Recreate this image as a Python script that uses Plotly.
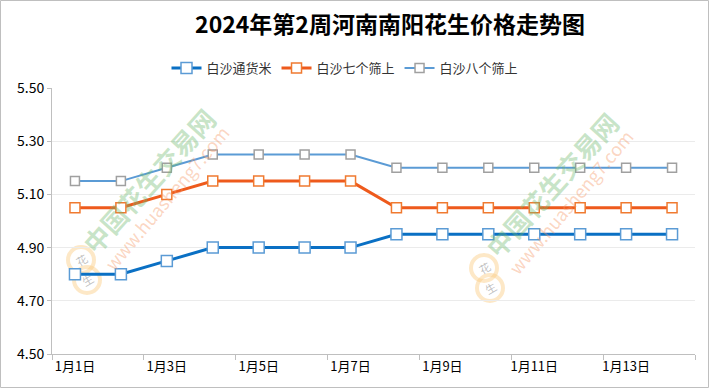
import plotly.graph_objects as go

dates = ["1月1日", "1月2日", "1月3日", "1月4日", "1月5日", "1月6日", "1月7日",
         "1月8日", "1月9日", "1月10日", "1月11日", "1月12日", "1月13日", "1月14日"]
s_tonghuo = [4.80, 4.80, 4.85, 4.90, 4.90, 4.90, 4.90, 4.95, 4.95, 4.95, 4.95, 4.95, 4.95, 4.95]
s_qige = [5.05, 5.05, 5.10, 5.15, 5.15, 5.15, 5.15, 5.05, 5.05, 5.05, 5.05, 5.05, 5.05, 5.05]
s_bage = [5.15, 5.15, 5.20, 5.25, 5.25, 5.25, 5.25, 5.20, 5.20, 5.20, 5.20, 5.20, 5.20, 5.20]
names = ["白沙通货米", "白沙七个筛上", "白沙八个筛上"]
title = "2024年第2周河南南阳花生价格走势图"

FONT = "Noto Sans CJK SC"

fig = go.Figure()
fig.add_trace(go.Scatter(
    x=dates, y=s_tonghuo, name=names[0], mode="lines+markers",
    line=dict(color="#0A70C4", width=3),
    marker=dict(symbol="square", size=11, color="white", line=dict(color="#5B9BD5", width=1.5))))
fig.add_trace(go.Scatter(
    x=dates, y=s_qige, name=names[1], mode="lines+markers",
    line=dict(color="#EE5A1C", width=3),
    marker=dict(symbol="square", size=10, color="white", line=dict(color="#F07A30", width=1.5))))
fig.add_trace(go.Scatter(
    x=dates, y=s_bage, name=names[2], mode="lines+markers",
    line=dict(color="#5B9BD5", width=2),
    marker=dict(symbol="square", size=9, color="white", line=dict(color="#A0A0A0", width=1.5))))

W, H = 710, 389
L, R, T, B = 52, 15, 88, 35
pw, ph = W - L - R, H - T - B

def px(x):
    return (x - L) / pw

def py(y):
    return (H - B - y) / ph

fig.update_layout(
    width=W, height=H,
    margin=dict(l=L, r=R, t=T, b=B, autoexpand=False),
    paper_bgcolor="white", plot_bgcolor="white",
    font=dict(family=FONT, color="#222222"),
    title=dict(text="<b>" + title + "</b>", x=390 / W, xanchor="center",
               y=1 - 25 / H, yanchor="middle", font=dict(size=23, color="black", family=FONT)),
    legend=dict(orientation="h", x=345 / W, xref="container", xanchor="center",
                y=1 - 68 / H, yref="container", yanchor="middle",
                font=dict(size=13, color="#333333", family=FONT), itemwidth=30,
                traceorder="normal"),
    showlegend=True,
)
fig.update_xaxes(
    type="category", tickmode="linear", dtick=2, tickson="boundaries", tickangle=0,
    ticks="outside", ticklen=5, tickcolor="#BFBFBF",
    showline=True, linecolor="#BFBFBF", linewidth=1, showgrid=False,
    tickfont=dict(size=13, color="black", family=FONT), range=[-0.5, 13.5])
fig.update_yaxes(
    range=[4.5, 5.5], dtick=0.2, tick0=4.5, tickformat=".2f",
    showline=True, linecolor="#BFBFBF", linewidth=1,
    showgrid=True, gridcolor="#EBEBEB", zeroline=False,
    ticks="outside", ticklen=4, tickcolor="#BFBFBF",
    tickfont=dict(size=14, color="black", family=FONT))

# watermark annotations
for (cx, cy), (ux, uy), (lx, ly) in [((148, 180), (166, 198), (84, 270)),
                                      ((551, 184), (570, 202), (487, 278))]:
    for dx, dy in [(-3, -10), (3, 10)]:
        fig.add_shape(type="circle", xref="paper", yref="paper", layer="below",
                      x0=px(lx + dx - 13), x1=px(lx + dx + 13),
                      y0=py(ly + dy + 13), y1=py(ly + dy - 13),
                      line=dict(color="rgba(250,205,130,0.45)", width=4),
                      fillcolor="rgba(255,255,255,0)")
    fig.add_annotation(x=px(lx - 3), y=py(ly - 10), xref="paper", yref="paper",
                       xanchor="center", yanchor="middle",
                       text="花", showarrow=False, textangle=-30,
                       font=dict(size=11, color="rgba(140,140,140,0.55)", family=FONT))
    fig.add_annotation(x=px(lx + 3), y=py(ly + 10), xref="paper", yref="paper",
                       xanchor="center", yanchor="middle",
                       text="生", showarrow=False, textangle=-30,
                       font=dict(size=11, color="rgba(140,140,140,0.55)", family=FONT))
    fig.add_annotation(x=px(cx), y=py(cy), xref="paper", yref="paper",
                       xanchor="center", yanchor="middle",
                       text="<b>中国花生交易网</b>", showarrow=False, textangle=-48,
                       font=dict(size=26, color="rgba(110,185,110,0.38)", family=FONT))
    fig.add_annotation(x=px(ux), y=py(uy), xref="paper", yref="paper",
                       xanchor="center", yanchor="middle",
                       text="www.huasheng7.com", showarrow=False, textangle=-50,
                       font=dict(size=18, color="rgba(245,150,100,0.4)", family=FONT))

# outer border
fig.add_shape(type="rect", xref="paper", yref="paper", layer="above",
              x0=px(0.5), x1=px(W - 1.5), y0=py(H - 1.5), y1=py(0.5),
              line=dict(color="#BFBFBF", width=1))

fig.write_html("out.html", config={"displayModeBar": False},
               post_script="document.body.style.margin='0';document.body.style.overflow='hidden';")
